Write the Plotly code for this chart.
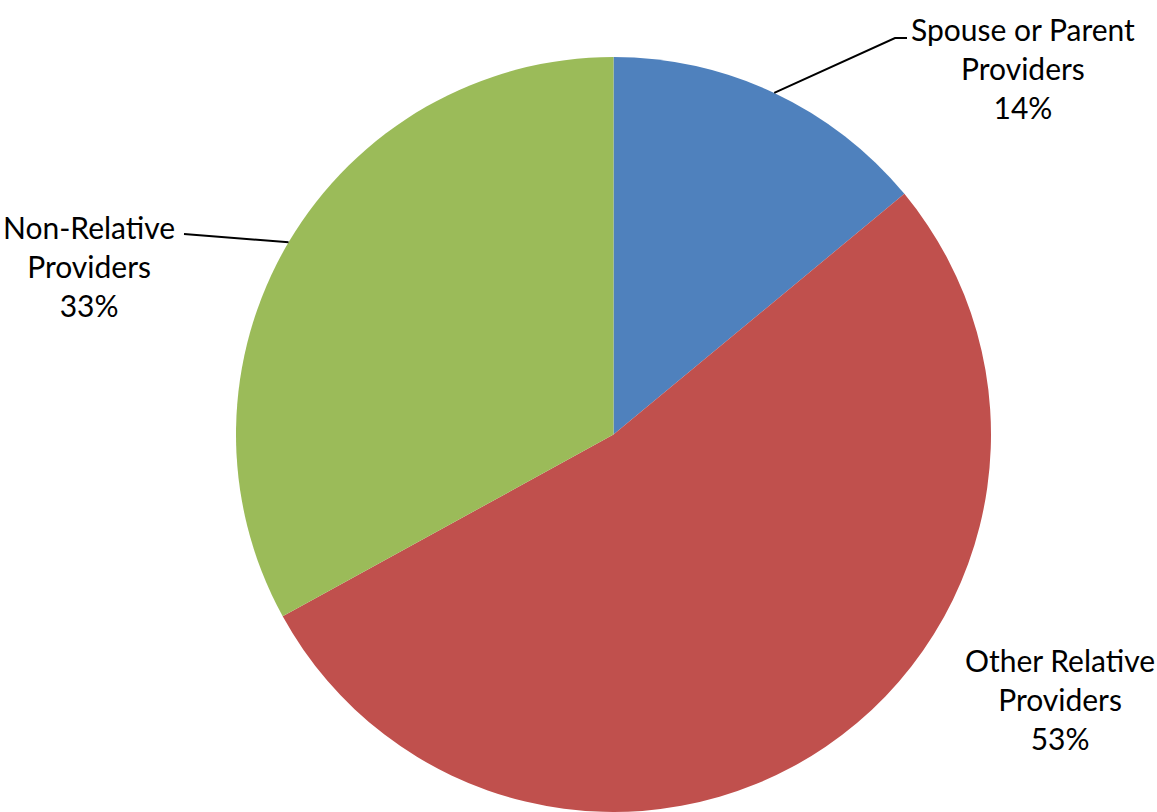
import math
import plotly.graph_objects as go

# Share of providers by relationship to the child
categories = ["Spouse or Parent Providers", "Other Relative Providers", "Non-Relative Providers"]
label_lines = [["Spouse or Parent", "Providers"], ["Other Relative", "Providers"], ["Non-Relative", "Providers"]]
shares = [14, 53, 33]
colors = ["#4F81BD", "#C0504D", "#9BBB59"]

W, H = 1157, 812
TOP = 57  # blank band above the pie
pie_h = H - TOP
radius = pie_h / 2
cx, cy = 613.5, TOP + radius
# keep the domain symmetric around the centre
span = min(cx / W, 1.0 - cx / W)
dom_x = [cx / W - span, cx / W + span]

fig = go.Figure(go.Pie(
    labels=categories,
    values=shares,
    sort=False,
    direction="clockwise",
    rotation=0,
    marker=dict(colors=colors, line=dict(width=0)),
    textinfo="none",
    hoverinfo="label+percent",
    showlegend=False,
    domain=dict(x=dom_x, y=[0, 1 - TOP / H]),
))

FONT = dict(family="Lato, 'Noto Sans', sans-serif", size=30, color="#000000")

def px_to_paper(x, y):
    return x / W, 1 - y / H

total = sum(shares)
mid_angles = []
acc = 0
for v in shares:
    mid_angles.append((acc + v / 2) / total * 2 * math.pi)
    acc += v

def edge_point(i):
    a = mid_angles[i]
    return cx + radius * math.sin(a), cy - radius * math.cos(a)

# label block centres (middle line) and leader-line paths
label_pos = [(1023, 68), (1060, 699), (89, 266)]
leader_bends = [[(895, 38), (907, 38)], None, [(184, 234)]]

annotations = []
shapes = []
for i, (lines, v) in enumerate(zip(label_lines, shares)):
    text = "<br>".join(lines + [f"{round(v / total * 100)}%"])
    px, py = px_to_paper(*label_pos[i])
    annotations.append(dict(
        x=px, y=py, xref="paper", yref="paper", text=text, showarrow=False,
        xanchor="center", yanchor="middle", align="center", font=FONT,
    ))
    if leader_bends[i]:
        pts = [edge_point(i)] + leader_bends[i]
        path = "M " + " L ".join(f"{x / W},{1 - y / H}" for x, y in pts)
        shapes.append(dict(type="path", xref="paper", yref="paper", path=path,
                           line=dict(color="#000000", width=2)))

fig.update_layout(
    width=W, height=H,
    margin=dict(l=0, r=0, t=0, b=0),
    paper_bgcolor="#FFFFFF", plot_bgcolor="#FFFFFF",
    annotations=annotations, shapes=shapes,
)

fig.write_html("out.html")
